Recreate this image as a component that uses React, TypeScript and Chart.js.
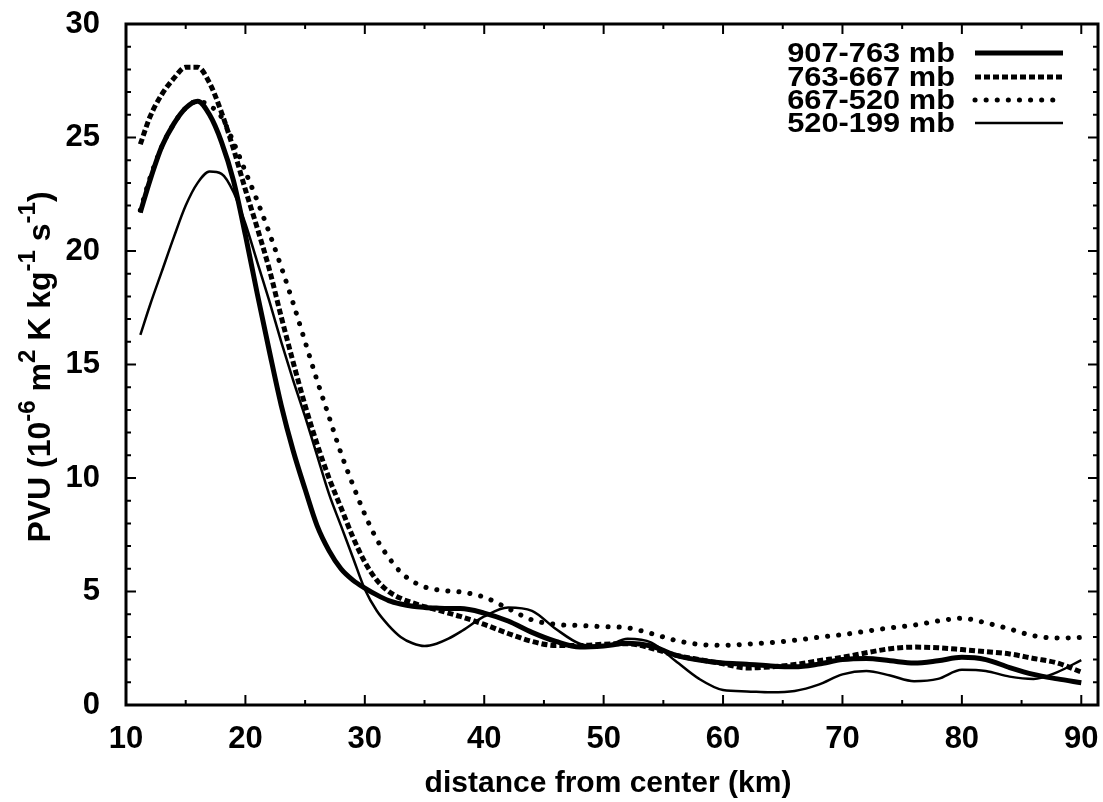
import React, { useEffect, useRef } from "react";
import { Chart, registerables } from "chart.js";

Chart.register(...registerables);

// ---------- data ----------
const distances = [11.2, 12, 13, 14, 15, 16, 17, 18, 19, 20, 21, 22, 23, 24, 25, 26, 27, 28, 29, 30, 31, 32, 33, 34, 35, 36, 37, 38, 40, 42, 44, 46, 48, 50, 52, 54, 56, 58, 60, 62, 64, 66, 68, 70, 72, 74, 76, 78, 80, 82, 84, 86, 88, 90];

const pv907_763 = [21.7, 23.1, 24.6, 25.6, 26.3, 26.6, 26.0, 24.8, 23.1, 20.7, 18.1, 15.6, 13.2, 11.2, 9.5, 7.9, 6.8, 6.0, 5.5, 5.15, 4.85, 4.6, 4.45, 4.35, 4.3, 4.27, 4.25, 4.25, 4.05, 3.7, 3.2, 2.8, 2.55, 2.6, 2.72, 2.6, 2.2, 1.98, 1.85, 1.8, 1.72, 1.68, 1.8, 2.0, 2.05, 1.95, 1.85, 1.95, 2.1, 2.0, 1.65, 1.35, 1.15, 0.98];

const pv763_667 = [24.7, 25.9, 26.9, 27.6, 28.1, 28.1, 27.4, 26.1, 24.5, 22.7, 21.0, 19.2, 17.1, 15.1, 13.2, 11.5, 10.0, 8.7, 7.4, 6.3, 5.5, 5.0, 4.7, 4.5, 4.33, 4.2, 4.05, 3.9, 3.55, 3.15, 2.8, 2.62, 2.62, 2.68, 2.7, 2.5, 2.2, 2.0, 1.82, 1.63, 1.68, 1.78, 1.95, 2.1, 2.3, 2.48, 2.55, 2.52, 2.44, 2.35, 2.25, 2.05, 1.85, 1.45];

const pv667_520 = [21.8, 23.2, 24.6, 25.6, 26.3, 26.6, 26.4, 25.9, 24.8, 23.5, 22.2, 20.8, 19.3, 17.7, 16.0, 14.3, 12.7, 11.1, 9.7, 8.4, 7.3, 6.5, 5.85, 5.45, 5.2, 5.08, 5.02, 4.98, 4.75, 4.25, 3.75, 3.55, 3.5, 3.45, 3.4, 3.15, 2.85, 2.67, 2.63, 2.68, 2.75, 2.85, 2.98, 3.1, 3.25, 3.4, 3.52, 3.7, 3.82, 3.62, 3.35, 3.05, 2.95, 2.97];

const pv520_199 = [16.3, 17.6, 19.1, 20.6, 22.0, 23.0, 23.5, 23.4, 22.6, 21.2, 19.5, 17.8, 16.0, 14.3, 12.7, 11.0, 9.3, 7.9, 6.5, 5.1, 4.15, 3.5, 3.0, 2.72, 2.6, 2.7, 2.92, 3.22, 3.9, 4.3, 4.15, 3.35, 2.7, 2.58, 2.92, 2.75, 1.95, 1.15, 0.66, 0.6, 0.56, 0.62, 0.9, 1.35, 1.5, 1.3, 1.05, 1.15, 1.55, 1.5, 1.25, 1.15, 1.45, 1.98];

const seriesLabels = ["907-763 mb", "763-667 mb", "667-520 mb", "520-199 mb"];

const xMajorTicks = [10, 20, 30, 40, 50, 60, 70, 80, 90];
const xMinorTicks = [15, 25, 35, 45, 55, 65, 75, 85];
const yMajorTicks = [0, 5, 10, 15, 20, 25, 30];
const yMinorTicks = [1, 2, 3, 4, 6, 7, 8, 9, 11, 12, 13, 14, 16, 17, 18, 19, 21, 22, 23, 24, 26, 27, 28, 29];

const xTitle = "distance from center (km)";
// y title pieces: [text, isSuperscript]
const yTitleParts: [string, boolean][] = [
  ["PVU (10", false],
  ["-6", true],
  [" m", false],
  ["2", true],
  [" K kg", false],
  ["-1", true],
  [" s", false],
  ["-1", true],
  [")", false],
];

// ---------- styling ----------
const FONT = "'Liberation Sans', Arial, Helvetica, sans-serif";
const FS = 31;
const LEG_FS = 28;
const YT_FS = 32;
const SUP_FS = 24;

const lineStyles = [
  { width: 5, dash: [] as number[], cap: "butt" as CanvasLineCap },
  { width: 5, dash: [6, 3], cap: "butt" as CanvasLineCap },
  { width: 5, dash: [0.1, 11], cap: "round" as CanvasLineCap },
  { width: 2.5, dash: [] as number[], cap: "butt" as CanvasLineCap },
];

const decorPlugin = {
  id: "decor",
  afterDraw(chart: any) {
    const { ctx, chartArea: a, scales } = chart;
    const xs = scales.x;
    const ys = scales.y;
    ctx.save();
    ctx.strokeStyle = "#000";
    ctx.fillStyle = "#000";
    ctx.setLineDash([]);

    // ticks, inward on all four sides
    ctx.lineWidth = 2;
    ctx.beginPath();
    const xt = (vals: number[], len: number) => {
      for (const v of vals) {
        const p = xs.getPixelForValue(v);
        ctx.moveTo(p, a.bottom);
        ctx.lineTo(p, a.bottom - len);
        ctx.moveTo(p, a.top);
        ctx.lineTo(p, a.top + len);
      }
    };
    const yt = (vals: number[], len: number) => {
      for (const v of vals) {
        const p = ys.getPixelForValue(v);
        ctx.moveTo(a.left, p);
        ctx.lineTo(a.left + len, p);
        ctx.moveTo(a.right, p);
        ctx.lineTo(a.right - len, p);
      }
    };
    xt(xMajorTicks, 10);
    xt(xMinorTicks, 5);
    yt(yMajorTicks, 10);
    yt(yMinorTicks, 5);
    ctx.stroke();

    // frame
    ctx.lineWidth = 3;
    ctx.strokeRect(a.left, a.top, a.right - a.left, a.bottom - a.top);

    // legend
    const rows = [53, 77, 100, 123];
    chart.data.datasets.forEach((ds: any, i: number) => {
      const y = rows[i];
      ctx.save();
      ctx.translate(955, y + 1);
      ctx.scale(1.1, 1);
      ctx.font = `bold ${LEG_FS}px ${FONT}`;
      ctx.textAlign = "right";
      ctx.textBaseline = "middle";
      ctx.fillText(ds.label, 0, 0);
      ctx.restore();
      const st = lineStyles[i];
      ctx.lineWidth = st.width;
      ctx.lineCap = st.cap;
      ctx.setLineDash(st.dash);
      ctx.beginPath();
      ctx.moveTo(975, y);
      ctx.lineTo(1063, y);
      ctx.stroke();
    });
    ctx.setLineDash([]);
    ctx.lineCap = "butt";

    // x title
    ctx.textAlign = "center";
    ctx.textBaseline = "middle";
    ctx.font = `bold 30px ${FONT}`;
    ctx.fillText(xTitle, 608, 784);

    // y title with superscripts
    ctx.save();
    ctx.translate(50, 367);
    ctx.rotate(-Math.PI / 2);
    ctx.textAlign = "left";
    ctx.textBaseline = "alphabetic";
    let total = 0;
    for (const [t, sup] of yTitleParts) {
      ctx.font = `bold ${sup ? SUP_FS : YT_FS}px ${FONT}`;
      total += ctx.measureText(t).width;
    }
    let x = -total / 2;
    for (const [t, sup] of yTitleParts) {
      ctx.font = `bold ${sup ? SUP_FS : YT_FS}px ${FONT}`;
      ctx.fillText(t, x, sup ? -15 : 0);
      x += ctx.measureText(t).width;
    }
    ctx.restore();

    ctx.restore();
  },
};

export default function App() {
  const ref = useRef<HTMLCanvasElement | null>(null);

  useEffect(() => {
    if (!ref.current) return;
    const series = [pv907_763, pv763_667, pv667_520, pv520_199];
    const chart = new Chart(ref.current, {
      type: "line",
      data: {
        datasets: series.map((vals, i) => ({
          label: seriesLabels[i],
          data: distances.map((d, j) => ({ x: d, y: vals[j] })),
          borderColor: "#000",
          backgroundColor: "#000",
          borderWidth: lineStyles[i].width,
          borderDash: lineStyles[i].dash,
          borderCapStyle: lineStyles[i].cap,
          borderJoinStyle: "round",
          pointRadius: 0,
          fill: false,
          cubicInterpolationMode: "monotone",
        })),
      },
      options: {
        animation: false,
        responsive: false,
        maintainAspectRatio: false,
        devicePixelRatio: 1,
        layout: { padding: { top: 24, right: 5, left: 0, bottom: 0 } },
        plugins: { legend: { display: false }, tooltip: { enabled: false } },
        scales: {
          x: {
            type: "linear",
            min: 10,
            max: 91.4,
            grid: { display: false },
            border: { display: false },
            afterBuildTicks: (scale: any) => {
              scale.ticks = xMajorTicks.map((v) => ({ value: v }));
            },
            afterFit: (scale: any) => {
              scale.height = 97;
              scale.paddingLeft = 0;
              scale.paddingRight = 0;
            },
            ticks: {
              color: "#000",
              font: { family: FONT, size: FS, weight: "bold" },
              padding: 8,
              maxRotation: 0,
              autoSkip: false,
            },
          },
          y: {
            type: "linear",
            min: 0,
            max: 30,
            grid: { display: false },
            border: { display: false },
            afterBuildTicks: (scale: any) => {
              scale.ticks = yMajorTicks.map((v) => ({ value: v }));
            },
            afterFit: (scale: any) => {
              scale.width = 126;
              scale.paddingTop = 0;
              scale.paddingBottom = 0;
            },
            ticks: {
              color: "#000",
              font: { family: FONT, size: FS, weight: "bold" },
              padding: 18,
              autoSkip: false,
            },
          },
        },
      },
      plugins: [decorPlugin],
    } as any);
    return () => chart.destroy();
  }, []);

  return (
    <div style={{ position: "absolute", left: 0, top: 0, width: 1103, height: 802, background: "#fff" }}>
      <canvas ref={ref} width={1103} height={802} style={{ display: "block" }} />
    </div>
  );
}
